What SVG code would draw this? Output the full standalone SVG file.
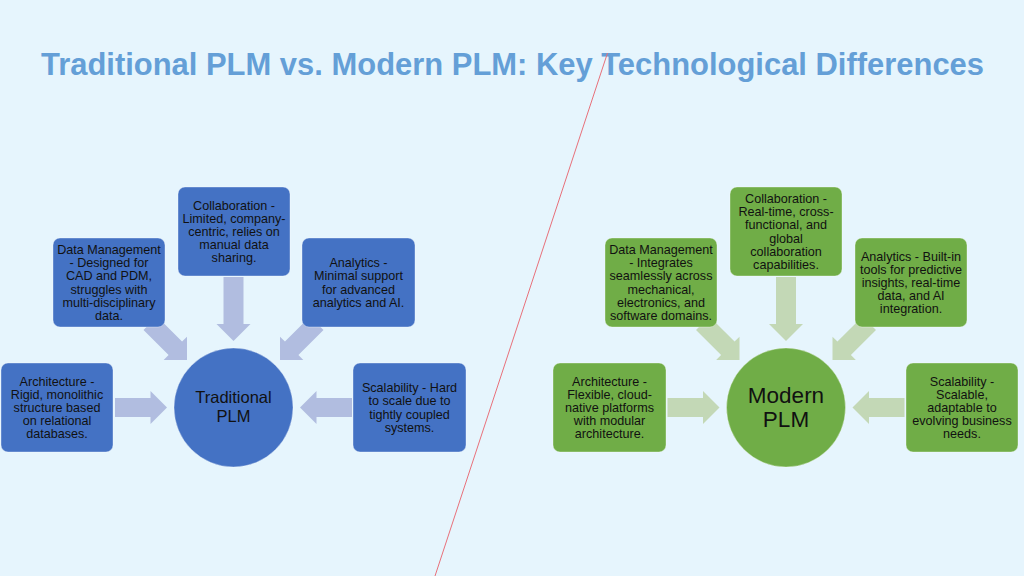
<svg xmlns="http://www.w3.org/2000/svg" width="1024" height="576" viewBox="0 0 1024 576">
<defs>
<style>
.bg{fill:#E6F5FD}
.title{font-family:"Liberation Sans",Arial,sans-serif;font-weight:bold;font-size:32px;fill:#649FD7}
.bbox{fill:#4472C4;stroke:#ffffff;stroke-opacity:0.35;stroke-width:1}
.gbox{fill:#70AD47;stroke:#ffffff;stroke-opacity:0.35;stroke-width:1}
.bcirc{fill:#4472C4;stroke:#ffffff;stroke-opacity:0.35;stroke-width:1}
.gcirc{fill:#70AD47;stroke:#ffffff;stroke-opacity:0.35;stroke-width:1}
.t{font-family:"Liberation Sans",Arial,sans-serif;font-size:12.6px;fill:#111;text-anchor:middle}
.ct{font-family:"Liberation Sans",Arial,sans-serif;font-size:16.5px;fill:#111;text-anchor:middle}
.mt{font-family:"Liberation Sans",Arial,sans-serif;font-size:22.5px;fill:#111;text-anchor:middle}
.ba{fill:#B1BDE0}
.ga{fill:#C3D8B6}
</style>
<path id="arr" d="M-52,-9.5 H-16.5 V-16.5 L0,0 L-16.5,16.5 V9.5 H-52 Z"/>
<path id="arrL" d="M-64,-10 H-17 V-17 L0,0 L-17,17 V10 H-64 Z"/>
</defs>
<rect class="bg" x="0" y="0" width="1024" height="576"/>
<text class="title" x="41" y="74.5" textLength="943" lengthAdjust="spacingAndGlyphs">Traditional PLM vs. Modern PLM: Key Technological Differences</text>

<g id="connectors">
<g class="ba">
<use href="#arr" transform="translate(167,407.5)"/>
<use href="#arr" transform="translate(300,407.5) rotate(180)"/>
<use href="#arrL" transform="translate(233.5,341) rotate(90)"/>
<use href="#arr" transform="translate(187,360) rotate(45)"/>
<use href="#arr" transform="translate(280,360) rotate(135)"/>
</g>
<g class="ga">
<use href="#arr" transform="translate(719.5,407.5)"/>
<use href="#arr" transform="translate(852.5,407.5) rotate(180)"/>
<use href="#arrL" transform="translate(786,341) rotate(90)"/>
<use href="#arr" transform="translate(739.5,360) rotate(45)"/>
<use href="#arr" transform="translate(832.5,360) rotate(135)"/>
</g>
</g>

<g id="trad-center">
<circle class="bcirc" cx="233.5" cy="407.5" r="59.5"/>
<text class="ct" x="233.5" y="403.3">Traditional</text>
<text class="ct" x="233.5" y="421.7">PLM</text>
</g>
<g id="trad-collab">
<rect class="bbox" x="178" y="187" width="112" height="89" rx="7"/>
<text class="t"><tspan x="234" y="209.5">Collaboration -</tspan><tspan x="234" dy="13.2">Limited, company-</tspan><tspan x="234" dy="13.2">centric, relies on</tspan><tspan x="234" dy="13.2">manual data</tspan><tspan x="234" dy="13.2">sharing.</tspan></text>
</g>
<g id="trad-data">
<rect class="bbox" x="53" y="238" width="112" height="89" rx="7"/>
<text class="t"><tspan x="109" y="253.9">Data Management</tspan><tspan x="109" dy="13.2">- Designed for</tspan><tspan x="109" dy="13.2">CAD and PDM,</tspan><tspan x="109" dy="13.2">struggles with</tspan><tspan x="109" dy="13.2">multi-disciplinary</tspan><tspan x="109" dy="13.2">data.</tspan></text>
</g>
<g id="trad-analytics">
<rect class="bbox" x="302" y="238" width="113" height="89" rx="7"/>
<text class="t"><tspan x="358.5" y="267.1">Analytics -</tspan><tspan x="358.5" dy="13.2">Minimal support</tspan><tspan x="358.5" dy="13.2">for advanced</tspan><tspan x="358.5" dy="13.2">analytics and AI.</tspan></text>
</g>
<g id="trad-arch">
<rect class="bbox" x="1" y="363" width="112" height="89" rx="7"/>
<text class="t"><tspan x="57" y="385.5">Architecture -</tspan><tspan x="57" dy="13.2">Rigid, monolithic</tspan><tspan x="57" dy="13.2">structure based</tspan><tspan x="57" dy="13.2">on relational</tspan><tspan x="57" dy="13.2">databases.</tspan></text>
</g>
<g id="trad-scal">
<rect class="bbox" x="353" y="363" width="113" height="89" rx="7"/>
<text class="t"><tspan x="409.5" y="392.1">Scalability - Hard</tspan><tspan x="409.5" dy="13.2">to scale due to</tspan><tspan x="409.5" dy="13.2">tightly coupled</tspan><tspan x="409.5" dy="13.2">systems.</tspan></text>
</g>

<g id="mod-center">
<circle class="gcirc" cx="786" cy="407.5" r="59.5"/>
<text class="mt" x="786" y="403.3">Modern</text>
<text class="mt" x="786" y="426.7">PLM</text>
</g>
<g id="mod-collab">
<rect class="gbox" x="730" y="187" width="112" height="89" rx="7"/>
<text class="t"><tspan x="786" y="202.9">Collaboration -</tspan><tspan x="786" dy="13.2">Real-time, cross-</tspan><tspan x="786" dy="13.2">functional, and</tspan><tspan x="786" dy="13.2">global</tspan><tspan x="786" dy="13.2">collaboration</tspan><tspan x="786" dy="13.2">capabilities.</tspan></text>
</g>
<g id="mod-data">
<rect class="gbox" x="605" y="238" width="112" height="89" rx="7"/>
<text class="t"><tspan x="661" y="253.9">Data Management</tspan><tspan x="661" dy="13.2">- Integrates</tspan><tspan x="661" dy="13.2">seamlessly across</tspan><tspan x="661" dy="13.2">mechanical,</tspan><tspan x="661" dy="13.2">electronics, and</tspan><tspan x="661" dy="13.2">software domains.</tspan></text>
</g>
<g id="mod-analytics">
<rect class="gbox" x="855" y="238" width="112" height="89" rx="7"/>
<text class="t"><tspan x="911" y="260.5">Analytics - Built-in</tspan><tspan x="911" dy="13.2">tools for predictive</tspan><tspan x="911" dy="13.2">insights, real-time</tspan><tspan x="911" dy="13.2">data, and AI</tspan><tspan x="911" dy="13.2">integration.</tspan></text>
</g>
<g id="mod-arch">
<rect class="gbox" x="553" y="363" width="113" height="89" rx="7"/>
<text class="t"><tspan x="609.5" y="385.5">Architecture -</tspan><tspan x="609.5" dy="13.2">Flexible, cloud-</tspan><tspan x="609.5" dy="13.2">native platforms</tspan><tspan x="609.5" dy="13.2">with modular</tspan><tspan x="609.5" dy="13.2">architecture.</tspan></text>
</g>
<g id="mod-scal">
<rect class="gbox" x="906" y="363" width="112" height="89" rx="7"/>
<text class="t"><tspan x="962" y="385.5">Scalability -</tspan><tspan x="962" dy="13.2">Scalable,</tspan><tspan x="962" dy="13.2">adaptable to</tspan><tspan x="962" dy="13.2">evolving business</tspan><tspan x="962" dy="13.2">needs.</tspan></text>
</g>

<line id="divider" x1="607.5" y1="53" x2="435" y2="576" stroke="#E8707A" stroke-width="1"/>
</svg>
